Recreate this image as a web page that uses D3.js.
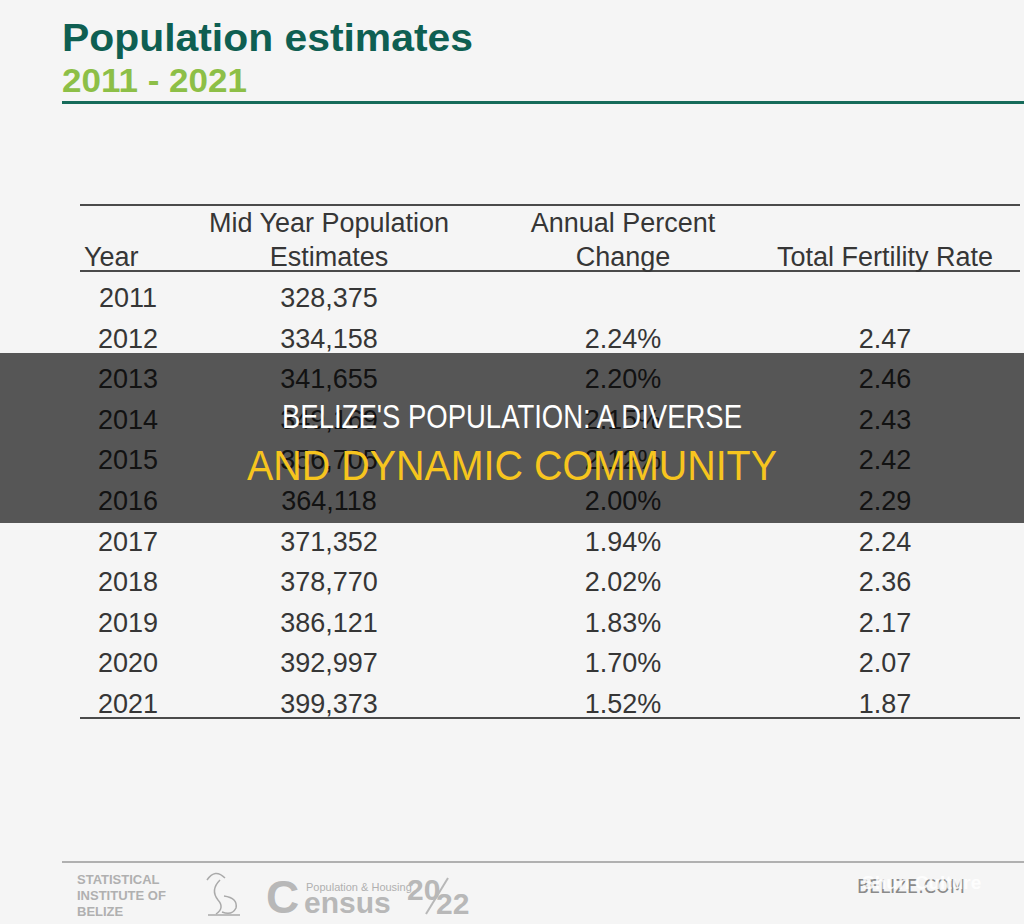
<!DOCTYPE html>
<html><head><meta charset="utf-8">
<script src="https://cdn.jsdelivr.net/npm/d3@7/dist/d3.min.js"></script>
<style>html,body{margin:0;padding:0;background:#f5f5f5;}svg{display:block;}
.ls{font-family:'Liberation Sans','Arimo',Arial,Helvetica,sans-serif;}
.ln{font-family:'Liberation Sans Narrow','Liberation Sans',Arial,sans-serif;}
</style>
</head><body>
<script>
const years = ["2011","2012","2013","2014","2015","2016","2017","2018","2019","2020","2021"];
const population = ["328,375","334,158","341,655","349,169","356,705","364,118","371,352","378,770","386,121","392,997","399,373"];
const percentChange = ["","2.24%","2.20%","2.15%","2.12%","2.00%","1.94%","2.02%","1.83%","1.70%","1.52%"];
const fertility = ["","2.47","2.46","2.43","2.42","2.29","2.24","2.36","2.17","2.07","1.87"];
const columns = ["Year","Mid Year Population Estimates","Annual Percent Change","Total Fertility Rate"];
const headerLine1 = ["","Mid Year Population","Annual Percent",""];
const headerLine2 = ["Year","Estimates","Change","Total Fertility Rate"];
const titleText = "Population estimates";
const subtitleText = "2011 - 2021";
const overlay1 = "BELIZE'S POPULATION: A DIVERSE";
const overlay2 = "AND DYNAMIC COMMUNITY";

const W = 1024, H = 924;
const svg = d3.select("body").append("svg").attr("width", W).attr("height", H);
svg.append("rect").attr("width", W).attr("height", H).attr("fill", "#f5f5f5");

// Title
svg.append("text").attr("class", "ls").attr("x", 62).attr("y", 51).text(titleText)
  .attr("font-weight", "bold").attr("font-size", 38).attr("fill", "#0f5f52")
  .attr("textLength", 411).attr("lengthAdjust", "spacingAndGlyphs");
svg.append("text").attr("class", "ls").attr("x", 62).attr("y", 92).text(subtitleText)
  .attr("font-weight", "bold").attr("font-size", 33).attr("fill", "#8dbf47")
  .attr("textLength", 185).attr("lengthAdjust", "spacingAndGlyphs");
svg.append("rect").attr("x", 62).attr("y", 101).attr("width", W - 62).attr("height", 3).attr("fill", "#166b5a");

// Table scales
const x = d3.scaleOrdinal().domain(columns).range([128, 329, 623, 885]);
const y = d3.scalePoint().domain(years).range([307, 713]);
const ink = "#363636";

// Table rules
[204, 270, 717].forEach(yy => {
  svg.append("rect").attr("x", 80).attr("y", yy).attr("width", 940).attr("height", 2).attr("fill", "#4a4a4a");
});

// Headers
const hdr = svg.append("g").attr("class", "ls").attr("font-size", 27).attr("fill", ink);
hdr.selectAll("text.h1").data(columns).join("text").attr("class", "h1")
  .attr("x", d => x(d)).attr("y", 232).attr("text-anchor", "middle")
  .text((d, i) => headerLine1[i]);
hdr.selectAll("text.h2").data(columns).join("text").attr("class", "h2")
  .attr("x", (d, i) => i === 0 ? 84 : x(d)).attr("y", 266)
  .attr("text-anchor", (d, i) => i === 0 ? "start" : "middle")
  .text((d, i) => headerLine2[i]);

// Body
const body = svg.append("g").attr("class", "ls").attr("font-size", 27).attr("fill", ink);
const cols = [years, population, percentChange, fertility];
cols.forEach((arr, ci) => {
  body.selectAll(null).data(arr).join("text")
    .attr("x", x(columns[ci])).attr("y", (d, i) => y(years[i]))
    .attr("text-anchor", "middle").text(d => d);
});

// Overlay band
svg.append("rect").attr("x", 0).attr("y", 353).attr("width", W).attr("height", 170)
  .attr("fill", "#000").attr("fill-opacity", 0.65);
svg.append("text").attr("class", "ln").attr("x", W / 2).attr("y", 428).attr("text-anchor", "middle")
  .attr("font-size", 33).attr("fill", "#ffffff").attr("textLength", 460).attr("lengthAdjust", "spacingAndGlyphs")
  .text(overlay1);
svg.append("text").attr("class", "ln").attr("x", W / 2).attr("y", 480).attr("text-anchor", "middle")
  .attr("font-size", 42).attr("fill", "#f7c51e").attr("textLength", 530).attr("lengthAdjust", "spacingAndGlyphs")
  .text(overlay2);

// Footer
svg.append("rect").attr("x", 62).attr("y", 861).attr("width", W - 62).attr("height", 2).attr("fill", "#b0b0b0");
const foot = svg.append("g").attr("class", "ls").attr("font-weight", "bold").attr("font-size", 13).attr("fill", "#b0b0b0");
["STATISTICAL", "INSTITUTE OF", "BELIZE"].forEach((t, i) => {
  foot.append("text").attr("x", 77).attr("y", 884 + i * 16).text(t);
});
// Simple emblem
const em = svg.append("g").attr("stroke", "#aaa").attr("fill", "none").attr("stroke-width", 1.5);
em.append("path").attr("d", "M207,880 Q215,868 225,878");
em.append("path").attr("d", "M220,880 Q210,890 218,900 Q225,908 216,914");
em.append("path").attr("d", "M224,896 Q238,898 236,908 Q232,916 222,912");
em.append("line").attr("x1", 208).attr("y1", 915).attr("x2", 240).attr("y2", 915);
// Census logo
svg.append("text").attr("class", "ls").attr("x", 266).attr("y", 913).attr("font-weight", "bold")
  .attr("font-size", 46).attr("fill", "#b8b8b8").text("C");
svg.append("text").attr("class", "ls").attr("x", 306).attr("y", 891)
  .attr("font-size", 11).attr("fill", "#b0b0b0").text("Population & Housing");
svg.append("text").attr("class", "ls").attr("x", 304).attr("y", 913).attr("font-weight", "bold")
  .attr("font-size", 30).attr("fill", "#b8b8b8").text("ensus");
svg.append("text").attr("class", "ls").attr("x", 407).attr("y", 900).attr("font-weight", "bold")
  .attr("font-size", 30).attr("fill", "#b8b8b8").text("20");
svg.append("line").attr("x1", 426).attr("y1", 914).attr("x2", 448).attr("y2", 878).attr("stroke", "#b8b8b8").attr("stroke-width", 2);
svg.append("text").attr("class", "ls").attr("x", 436).attr("y", 914).attr("font-weight", "bold")
  .attr("font-size", 30).attr("fill", "#b8b8b8").text("22");
// Belize.com
svg.append("text").attr("x", 857).attr("y", 893).attr("font-family", "'DejaVu Sans', sans-serif")
  .attr("font-size", 19).attr("fill", "#8a8a8a").attr("textLength", 108).attr("lengthAdjust", "spacingAndGlyphs").text("BELIZE.COM");
svg.append("text").attr("class", "ls").attr("x", 862).attr("y", 889).attr("font-weight", "bold")
  .attr("font-size", 19).attr("fill", "#ffffff").attr("fill-opacity", 0.85).text("Shun Culture");
</script>
</body></html>
